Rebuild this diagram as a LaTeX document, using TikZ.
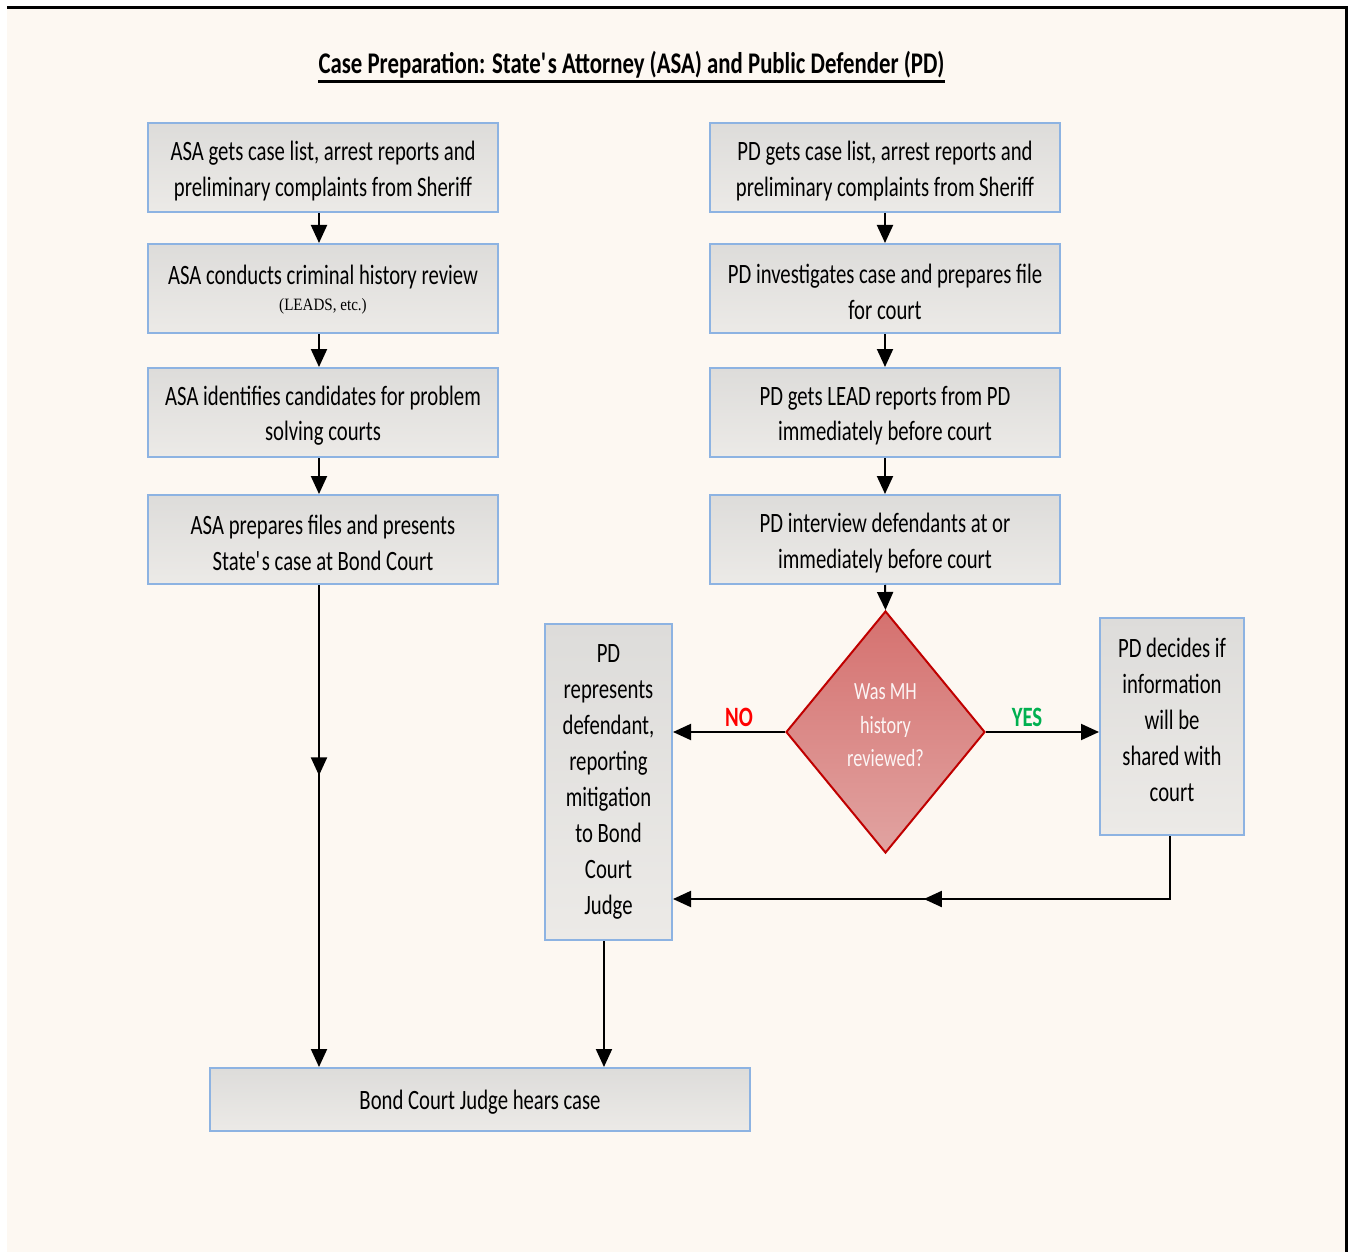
\documentclass[tikz,border=0pt]{standalone}
\usepackage{fontspec}
\setmainfont{Carlito}[FakeStretch=0.74]
\newfontfamily\titlefont{Carlito}[FakeStretch=0.76]
\newfontfamily\smallserif{Liberation Serif}[FakeStretch=0.87]
\usetikzlibrary{shapes.geometric,arrows.meta,decorations.markings}
\definecolor{bg}{HTML}{FDF8F2}
\definecolor{boxblue}{HTML}{8DB3E2}
\definecolor{boxtop}{HTML}{DDDCDA}
\definecolor{boxbot}{HTML}{ECEAE7}
\definecolor{diatop}{HTML}{D5716F}
\definecolor{diabot}{HTML}{E1A3A1}
\definecolor{diaborder}{HTML}{C00000}
\definecolor{nored}{HTML}{FF0000}
\definecolor{yesgreen}{HTML}{00B050}
\tikzset{
  box/.style={draw=boxblue, line width=1.5pt, top color=boxtop, bottom color=boxbot,
    inner sep=0pt},
  btext/.style={inner sep=0pt, align=center, text=black, font=\fontsize{21}{26.5}\selectfont},
  tallbtext/.style={btext, font=\fontsize{21}{27}\selectfont},
  decision/.style={diamond, draw=diaborder, line width=1.5pt, top color=diatop, bottom color=diabot,
    inner sep=0pt, aspect=0.82},
  dtext/.style={inner sep=0pt, align=center, text=white!93!diatop,
    font=\fontsize{18.5}{25}\selectfont},
  ln/.style={line width=1.5pt, draw=black},
  arr/.style={ln, -{Triangle[length=13.5pt,width=12pt]}},
  midarr/.style={ln, postaction={decorate}, decoration={markings,
    mark=at position #1 with {\arrow{Triangle[length=13.5pt,width=12pt]}}}},
  lbl/.style={font=\fontsize{21}{24}\selectfont\bfseries, inner sep=0pt},
  wide/.style={box, minimum width=350*0.75pt, minimum height=89*0.75pt},
}
\begin{document}
\begin{tikzpicture}[x=0.75pt,y=-0.75pt]
\useasboundingbox (0,0) rectangle (1353,1252);
\fill[bg] (7,7) rectangle (1345,1252);
\draw[line width=2.25pt] (7,7.5) -- (1346.5,7.5) -- (1346.5,1252);

% title
\node[anchor=base, inner sep=0pt, font=\fontsize{22.5}{26}\selectfont\titlefont\bfseries] (title) at (631.5,74)
  {Case Preparation: State\textquotesingle s Attorney (ASA) and Public Defender (PD)};
\draw[line width=2.25pt] ([yshift=-5.5pt]title.base west) -- ([yshift=-5.5pt]title.base east);

% left column
\node[wide, label={[btext, yshift=-2.6pt]center:{ASA gets case list, arrest reports and\\preliminary complaints from Sheriff}}] (a1) at (323,167.5) {};
\node[wide, label={[btext, yshift=-0.8pt]center:{ASA conducts criminal history review\\[-7.5pt]{\smallserif\fontsize{13}{14}\selectfont(LEADS, etc.)}}}] (a2) at (323,288.5) {};
\node[wide, label={[btext, yshift=-2.6pt]center:{ASA identifies candidates for problem\\solving courts}}] (a3) at (323,412.5) {};
\node[wide, label={[btext, yshift=-2.6pt]center:{ASA prepares files and presents\\State\textquotesingle s case at Bond Court}}] (a4) at (323,539.5) {};

% right column
\node[wide, label={[btext, yshift=-2.6pt]center:{PD gets case list, arrest reports and\\preliminary complaints from Sheriff}}] (p1) at (885,167.5) {};
\node[wide, label={[btext, yshift=-2.6pt]center:{PD investigates case and prepares file\\for court}}] (p2) at (885,288.5) {};
\node[wide, label={[btext, yshift=-2.6pt]center:{PD gets LEAD reports from PD\\immediately before court}}] (p3) at (885,412.5) {};
\node[wide, label={[btext, yshift=-2.6pt]center:{PD interview defendants at or\\immediately before court}}] (p4) at (885,539.5) {};

\node[decision, minimum width=199*0.75pt, minimum height=242*0.75pt,
  label={[dtext, yshift=5pt]center:{Was MH\\history\\reviewed?}}] (dia) at (885.5,732) {};

\node[box, minimum width=127*0.75pt, minimum height=316*0.75pt,
  label={[tallbtext, yshift=0pt]center:{PD\\represents\\defendant,\\reporting\\mitigation\\to Bond\\Court\\Judge}}] (pdr) at (608.5,782) {};
\node[box, minimum width=144*0.75pt, minimum height=217*0.75pt,
  label={[tallbtext, yshift=5.25pt]center:{PD decides if\\information\\will be\\shared with\\court}}] (pdd) at (1172,726.5) {};

\node[box, minimum width=540*0.75pt, minimum height=63*0.75pt,
  label={[btext, yshift=-2.25pt]center:{Bond Court Judge hears case}}] (bond) at (480,1099.5) {};

\coordinate (join) at (1170,899);

% connectors left
\draw[arr] ([xshift=-3pt]a1.south) -- ([xshift=-3pt]a2.north);
\draw[arr] ([xshift=-3pt]a2.south) -- ([xshift=-3pt]a3.north);
\draw[arr] ([xshift=-3pt]a3.south) -- ([xshift=-3pt]a4.north);
\draw[arr, midarr=0.395] ([xshift=-3pt]a4.south) -- ([xshift=-3pt]a4.south |- bond.north);

% connectors right
\draw[arr] (p1.south) -- (p2.north);
\draw[arr] (p2.south) -- (p3.north);
\draw[arr] (p3.south) -- (p4.north);
\draw[arr] (p4.south) -- (dia.north);

\draw[arr] (dia.west) -- (dia.west -| pdr.east);
\draw[arr] (dia.east) -- (dia.east -| pdd.west);
\node[lbl, text=nored] (no) at (739,717) {NO};
\node[lbl, text=yesgreen] (yes) at (1027,717) {YES};

\draw[arr, midarr=0.552] ([xshift=-1.5pt]pdd.south) |- (pdr.east |- join);
\draw[arr] ([xshift=-3.4pt]pdr.south) -- ([xshift=-3.4pt]pdr.south |- bond.north);
\end{tikzpicture}
\end{document}
